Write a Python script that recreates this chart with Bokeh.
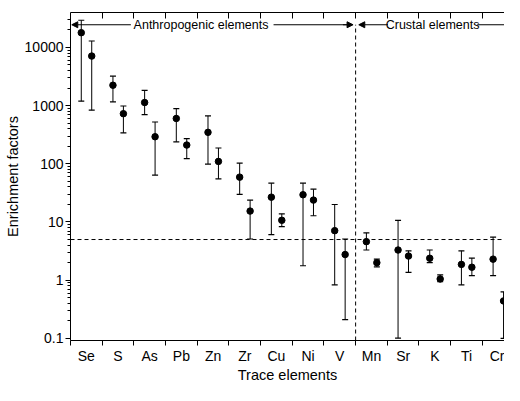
import numpy as np
from bokeh.plotting import figure
from bokeh.models import (ColumnDataSource, Whisker, TeeHead, Span, Arrow,
                          NormalHead, Label, LinearAxis, FixedTicker, LogTicker,
                          CustomJSTickFormatter, Range1d)
from bokeh.embed import file_html
from bokeh.resources import INLINE

# ---------------- data ----------------
elements = ["Se", "S", "As", "Pb", "Zn", "Zr", "Cu", "Ni", "V",
            "Mn", "Sr", "K", "Ti", "Cr"]
n_anthro = 9          # first 9 elements are anthropogenic
threshold = 5

a_mean = [17900, 2240, 1130, 601, 347, 59, 26.7, 29.4, 7.1, 4.6, 3.3, 2.38, 1.87, 2.3]
a_upper = [29300, 3200, 1830, 889, 664, 103, 46.5, 46.5, 20, 6.5, 10.7, 3.3, 3.2, 5.5]
a_lower = [1190, 1160, 700, 238, 99, 29.9, 6.05, 1.77, 0.83, 3.3, 0.101, 2.0, 0.83, 1.2]

b_mean = [7100, 726, 292, 210, 110, 15.4, 10.7, 23.8, 2.76, 2.0, 2.6, 1.05, 1.67, 0.44]
b_upper = [12900, 985, 523, 270, 187, 23.8, 13.8, 36.6, 5.1, 2.3, 3.2, 1.23, 2.4, 0.63]
b_lower = [834, 340, 64, 123, 55, 5.1, 8.3, 12.8, 0.21, 1.7, 1.36, 0.94, 1.2, 0.1]

# ---------------- layout constants ----------------
FONT = "Liberation Sans"
n = len(elements)
x_lo, x_hi = 0, 13.7
y_lo, y_hi = 0.092, 39800
ann_y = 24500
off_a, off_b = -0.16, 0.17

idx = np.arange(n)
src_a = ColumnDataSource(dict(x=idx + 0.5 + off_a, mean=a_mean, upper=a_upper, lower=a_lower))
src_b = ColumnDataSource(dict(x=idx + 0.5 + off_b, mean=b_mean, upper=b_upper, lower=b_lower))

p = figure(width=504, height=385, y_axis_type="log",
           x_range=Range1d(x_lo, x_hi), y_range=Range1d(y_lo, y_hi),
           output_backend="svg", toolbar_location=None,
           min_border_left=70, min_border_right=0, min_border_top=12,
           min_border_bottom=30)
p.outline_line_color = None
p.grid.visible = False
p.background_fill_color = "white"

# bottom axis: labels at centres, ticks at boundaries
xa = p.xaxis[0]
xa.ticker = FixedTicker(ticks=list(idx + 0.5), minor_ticks=list(range(n + 1)))
xa.formatter = CustomJSTickFormatter(args=dict(names=elements),
                                     code="return names[Math.floor(tick)] || '';")
xa.major_tick_line_color = None
xa.major_tick_out = 0
xa.major_tick_in = 0
xa.minor_tick_in = 0
xa.minor_tick_out = 5
xa.minor_tick_line_color = "black"
xa.major_label_standoff = 2
xa.major_label_text_font = FONT
xa.major_label_text_font_size = "14px"
xa.major_label_text_color = "black"
xa.axis_label = "Trace elements"
xa.axis_label_text_font = FONT
xa.axis_label_text_font_size = "14.5px"
xa.axis_label_text_font_style = "normal"
xa.axis_label_text_color = "black"
xa.axis_label_standoff = 0
xa.axis_line_color = "black"

# top axis: inward ticks, no labels
top = LinearAxis(ticker=FixedTicker(ticks=list(range(1, n)), minor_ticks=[]),
                 formatter=CustomJSTickFormatter(code="return '';"),
                 major_tick_in=6, major_tick_out=0, major_label_standoff=0,
                 major_label_text_font_size="1px",
                 axis_line_color="black", major_tick_line_color="black")
p.add_layout(top, "above")

# left axis
ya = p.yaxis[0]
ya.ticker = LogTicker(num_minor_ticks=10)
ya.formatter = CustomJSTickFormatter(code="return Number(tick.toPrecision(6)).toString();")
ya.major_tick_out = 5
ya.major_tick_in = 0
ya.minor_tick_out = 3
ya.minor_tick_in = 0
ya.major_label_standoff = 2
ya.major_label_text_font = FONT
ya.major_label_text_font_size = "14px"
ya.major_label_text_color = "black"
ya.axis_label = "Enrichment factors"
ya.axis_label_text_font = FONT
ya.axis_label_text_font_size = "14.5px"
ya.axis_label_text_font_style = "normal"
ya.axis_label_text_color = "black"
ya.axis_label_standoff = 1
ya.axis_line_color = "black"

# threshold & divider
p.add_layout(Span(location=threshold, dimension="width", line_color="black",
                  line_width=1, line_dash="4 3"))
p.segment(x0=[n_anthro], y0=[y_lo], x1=[n_anthro], y1=[ann_y],
          line_color="black", line_width=1, line_dash="4 3")

# error bars and points
for src in (src_a, src_b):
    w = Whisker(base="x", upper="upper", lower="lower", source=src,
                line_color="black", line_width=1,
                upper_head=TeeHead(size=6, line_color="black", line_width=1.2),
                lower_head=TeeHead(size=6, line_color="black", line_width=1.2))
    p.add_layout(w)
    p.scatter("x", "mean", source=src, size=6.5, color="black")

# group annotations
head = dict(size=6, fill_color="black", line_color="black")
p.add_layout(Arrow(end=NormalHead(**head), x_start=1.905, y_start=ann_y,
                   x_end=0.04, y_end=ann_y, line_color="black", line_width=1))
p.segment(x0=[6.41], y0=[ann_y], x1=[8.75], y1=[ann_y], line_color="black", line_width=1)
p.add_layout(Arrow(end=NormalHead(**head), x_start=8.6, y_start=ann_y,
                   x_end=8.92, y_end=ann_y, line_color="black", line_width=1))
p.add_layout(Arrow(end=NormalHead(**head), x_start=10.02, y_start=ann_y,
                   x_end=9.1, y_end=ann_y, line_color="black", line_width=1))
p.segment(x0=[12.84], y0=[ann_y], x1=[x_hi], y1=[ann_y], line_color="black", line_width=1)

p.add_layout(Label(x=4.12, y=ann_y, text="Anthropogenic elements", text_align="center",
                   text_baseline="middle", text_font=FONT, text_font_size="12.5px",
                   text_color="black"))
p.add_layout(Label(x=11.43, y=ann_y, text="Crustal elements", text_align="center",
                   text_baseline="middle", text_font=FONT, text_font_size="12.5px",
                   text_color="black"))

open("out.html", "w").write(file_html(p, INLINE))
